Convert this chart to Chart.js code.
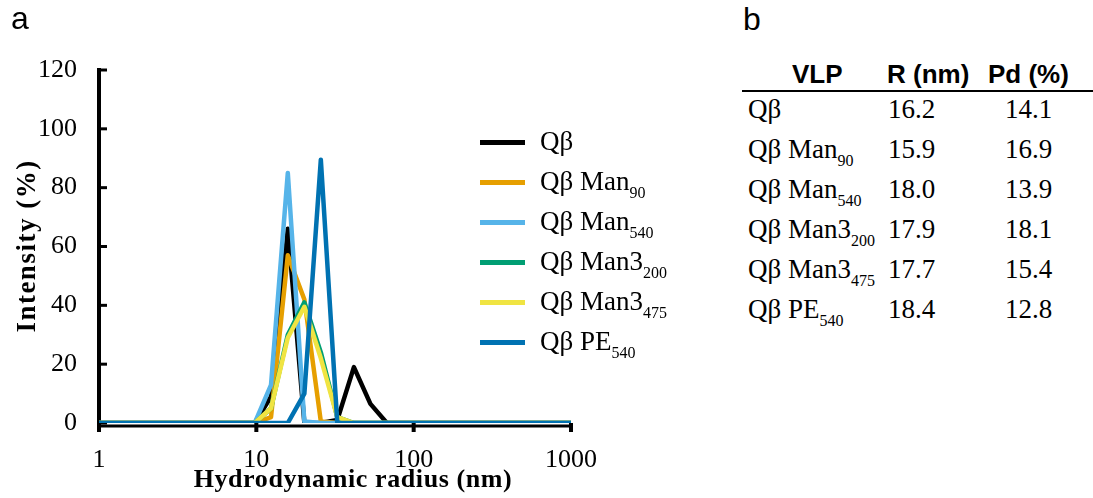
<!DOCTYPE html>
<html>
<head>
    <title>DLS size distribution</title>
    <script src="https://cdn.jsdelivr.net/npm/chart.js"></script>
    <style>
        body { margin: 0; width: 1093px; height: 498px; background: #fff; position: relative; overflow: hidden; }
        #dlsChart { position: absolute; left: 0; top: 0; }
        .panel { position: absolute; font-family: "Liberation Sans", Arial, sans-serif; font-size: 32px; line-height: 32px; color: #000; }
        .serif { position: absolute; font-family: "Liberation Serif", "Times New Roman", serif; font-size: 27px; line-height: 27px; color: #000; white-space: nowrap; }
        .serif sub { font-size: 16px; vertical-align: -8px; line-height: 0; }
        .swatch { position: absolute; width: 45px; height: 5px; }
        .head { position: absolute; font-family: "Liberation Sans", Arial, sans-serif; font-weight: bold; font-size: 26px; line-height: 26px; white-space: nowrap; }
        #rule { position: absolute; left: 742px; top: 90px; width: 351px; height: 2px; background: #000; }
    </style>
</head>
<body>
    <canvas id="dlsChart" width="700" height="498"></canvas>
    <div class="panel" style="left:11px; top:2px;">a</div>
    <div class="panel" style="left:743px; top:3px;">b</div>
    <div id="legend"></div>
    <div id="table"></div>

    <script>
        // hydrodynamic radius bins (nm)
        const radius = [1, 9.77, 12.4, 15.85, 20.2, 25.7, 32.7, 41.7, 53.1, 67.6, 1000];

        // intensity distributions (%)
        const qb        = [0, 0, 9, 66, 0, 0, 1, 19, 6.5, 0, 0];
        const qbMan90   = [0, 0, 2, 57, 42, 0.5, 0, 0, 0, 0, 0];
        const qbMan540  = [0, 0, 13, 85, 0.5, 0, 0, 0, 0, 0, 0];
        const qbMan3200 = [0, 0, 5, 30, 41, 24, 2, 0, 0, 0, 0];
        const qbMan3475 = [0, 0, 5, 29, 39.5, 22, 2, 0, 0, 0, 0];
        const qbPE540   = [0, 0, 0, 0, 10, 89.5, 0, 0, 0, 0, 0];

        const seriesNames = ['Qβ', 'Qβ Man', 'Qβ Man', 'Qβ Man3', 'Qβ Man3', 'Qβ PE'];
        const seriesSubs = ['', '90', '540', '200', '475', '540'];
        const seriesColors = ['#000000', '#E69F00', '#56B4E9', '#009E73', '#F0E442', '#0072B2'];
        const seriesData = [qb, qbMan90, qbMan540, qbMan3200, qbMan3475, qbPE540];

        const xTicks = [1, 10, 100, 1000];
        const yTicks = [0, 20, 40, 60, 80, 100, 120];

        // table b
        const vlpNames = ['Qβ', 'Qβ Man', 'Qβ Man', 'Qβ Man3', 'Qβ Man3', 'Qβ PE'];
        const vlpSubs = ['', '90', '540', '200', '475', '540'];
        const radiusNm = ['16.2', '15.9', '18.0', '17.9', '17.7', '18.4'];
        const pdPercent = ['14.1', '16.9', '13.9', '18.1', '15.4', '12.8'];

        function label(name, sub) {
            return sub ? name + '<sub>' + sub + '</sub>' : name;
        }

        // legend
        let legendHtml = '';
        seriesNames.forEach((name, i) => {
            const cy = 142 + i * 40;
            legendHtml += '<div class="swatch" style="left:480px; top:' + (cy - 2) + 'px; background:' + seriesColors[i] + ';"></div>';
            legendHtml += '<div class="serif" style="left:540px; top:' + (cy - 14) + 'px;">' + label(name, seriesSubs[i]) + '</div>';
        });
        document.getElementById('legend').innerHTML = legendHtml;

        // table
        let tableHtml = '<div class="head" style="left:792px; top:61px;">VLP</div>'
            + '<div class="head" style="left:887px; top:61px;">R (nm)</div>'
            + '<div class="head" style="left:988px; top:61px;">Pd (%)</div>'
            + '<div id="rule"></div>';
        vlpNames.forEach((name, i) => {
            const top = 110 + i * 40 - 14;
            tableHtml += '<div class="serif" style="left:748px; top:' + top + 'px;">' + label(name, vlpSubs[i]) + '</div>';
            tableHtml += '<div class="serif" style="left:888px; top:' + top + 'px;">' + radiusNm[i] + '</div>';
            tableHtml += '<div class="serif" style="left:1005px; top:' + top + 'px;">' + pdPercent[i] + '</div>';
        });
        document.getElementById('table').innerHTML = tableHtml;

        // axis lines, inward y ticks and axis titles
        const axesPlugin = {
            id: 'axes',
            beforeDatasetsDraw(chart) {
                const { ctx, scales: { x, y } } = chart;
                const left = x.getPixelForValue(1);
                const right = x.getPixelForValue(1000);
                const y0 = y.getPixelForValue(0);
                const yTop = y.getPixelForValue(120);
                ctx.save();
                ctx.strokeStyle = '#000';
                ctx.lineWidth = 3;
                ctx.beginPath();
                ctx.moveTo(left, y0 + 3);
                ctx.lineTo(right, y0 + 3);
                ctx.stroke();
                ctx.lineWidth = 4;
                xTicks.forEach(v => {
                    const px = x.getPixelForValue(v);
                    ctx.beginPath();
                    ctx.moveTo(px, y0);
                    ctx.lineTo(px, y0 + 9);
                    ctx.stroke();
                });
                ctx.beginPath();
                ctx.moveTo(left, yTop - 2);
                ctx.lineTo(left, y0 + 8);
                ctx.stroke();
                ctx.lineWidth = 3;
                yTicks.forEach(v => {
                    const py = y.getPixelForValue(v);
                    ctx.beginPath();
                    ctx.moveTo(left, py);
                    ctx.lineTo(left + 8, py);
                    ctx.stroke();
                });
                ctx.restore();
            },
            afterDraw(chart) {
                const ctx = chart.ctx;
                ctx.save();
                ctx.fillStyle = '#000';
                ctx.font = 'bold 26px "Liberation Serif"';
                ctx.textAlign = 'center';
                ctx.textBaseline = 'middle';
                ctx.letterSpacing = '0.6px';
                ctx.fillText('Hydrodynamic radius (nm)', 353, 480);
                ctx.letterSpacing = '1.5px';
                ctx.translate(28, 246);
                ctx.rotate(-Math.PI / 2);
                ctx.font = 'bold 27px "Liberation Serif"';
                ctx.fillText('Intensity (%)', 0, 0);
                ctx.restore();
            }
        };

        const ctx = document.getElementById('dlsChart').getContext('2d');
        new Chart(ctx, {
            type: 'line',
            data: {
                datasets: seriesData.map((values, i) => ({
                    label: seriesNames[i] + seriesSubs[i],
                    data: radius.map((r, j) => ({ x: r, y: values[j] })),
                    borderColor: seriesColors[i],
                    borderWidth: 4.5,
                    borderJoinStyle: 'round',
                    pointRadius: 0,
                    tension: 0,
                    order: seriesData.length - i
                }))
            },
            options: {
                responsive: false,
                animation: false,
                devicePixelRatio: 1,
                layout: { padding: { top: 70, right: 129, left: 0, bottom: 0 } },
                plugins: { legend: { display: false }, tooltip: { enabled: false } },
                scales: {
                    x: {
                        type: 'logarithmic',
                        min: 1,
                        max: 1000,
                        border: { display: false },
                        grid: { display: false },
                        afterBuildTicks: scale => { scale.ticks = xTicks.map(v => ({ value: v })); },
                        afterFit: scale => { scale.height = 75; },
                        ticks: {
                            color: '#000',
                            padding: 14,
                            maxRotation: 0,
                            font: { family: 'Liberation Serif', size: 26 },
                            callback: v => String(v)
                        }
                    },
                    y: {
                        min: 0,
                        max: 120,
                        border: { display: false },
                        grid: { display: false },
                        afterBuildTicks: scale => { scale.ticks = yTicks.map(v => ({ value: v })); },
                        afterFit: scale => { scale.width = 99; },
                        ticks: {
                            color: '#000',
                            padding: 14,
                            font: { family: 'Liberation Serif', size: 26 }
                        }
                    }
                }
            },
            plugins: [axesPlugin]
        });
    </script>
</body>
</html>
